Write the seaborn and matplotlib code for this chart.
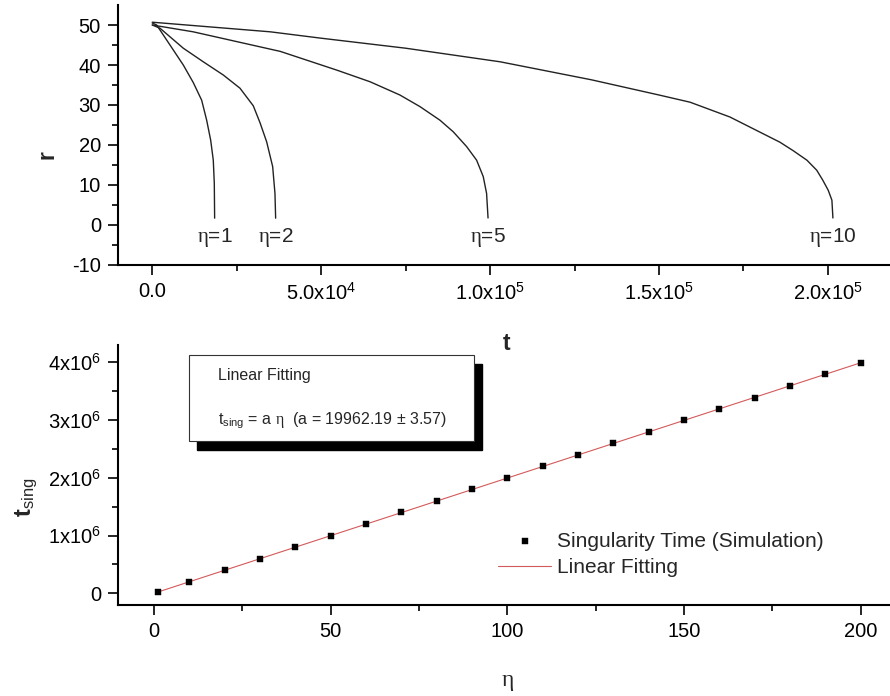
import matplotlib
matplotlib.use("Agg")
import numpy as np
import pandas as pd
import matplotlib.pyplot as plt
from matplotlib.patches import Rectangle
import seaborn as sns

# --- top panel: r(t), centre of the wiggle band ---
t_eta1 = [0, 1300, 5240, 9180, 12140, 14620, 16100, 17290, 18060, 18360, 18460]
r_eta1 = [50.5, 50, 45, 40, 35.6, 31.2, 26.2, 21.2, 16.2, 10.4, 1.7]

t_eta2 = [0, 2280, 9180, 15100, 21020, 25960, 29900, 31880, 33860, 35640,
          36320, 36520]
r_eta2 = [50, 49.2, 44.2, 40.8, 37.5, 34.2, 29.8, 25.6, 20.8, 14.6, 7.9, 1.7]

t_eta5 = [0, 12100, 37900, 54700, 64500, 73300, 79240, 85160, 89100, 93060,
          96020, 97980, 98970, 99400]
r_eta5 = [50, 48.3, 43.4, 38.7, 35.8, 32.5, 29.6, 26.2, 23.3, 19.6, 16.2, 12.1,
          7.9, 1.75]

t_eta10 = [0, 34900, 50000, 75000, 103000, 130000, 150000, 159200, 171000,
           185800, 189700, 193800, 196700, 198500, 200100, 201200, 201500]
r_eta10 = [50.7, 48.3, 46.7, 44.2, 40.8, 36.3, 32.5, 30.7, 27, 20.7, 18.6,
           16.2, 13.7, 11.2, 8.7, 6.2, 1.75]

curve_names = ["η=1", "η=2", "η=5", "η=10"]

# --- bottom panel: singularity time vs eta ---
eta = [1, 10, 20, 30, 40, 50, 60, 70, 80, 90, 100, 110, 120, 130, 140, 150,
       160, 170, 180, 190, 200]
tsing_sim = [0.02, 0.20, 0.40, 0.60, 0.80, 1.00, 1.20, 1.40, 1.60, 1.80, 2.00,
             2.20, 2.40, 2.60, 2.80, 3.00, 3.19, 3.39, 3.59, 3.79, 3.99]  # x1e6
fit_a = 19962.19

sns.set_style("ticks")
plt.rcParams["font.family"] = ["Liberation Sans", "DejaVu Sans"]
plt.rcParams.update({
    "mathtext.fontset": "custom",
    "mathtext.rm": "Liberation Sans",
    "mathtext.it": "Liberation Serif",
    "mathtext.bf": "Liberation Sans:bold",
    "axes.unicode_minus": False,
    "axes.linewidth": 1.5,
    "xtick.major.width": 1.2, "ytick.major.width": 1.2,
    "xtick.minor.width": 1.2, "ytick.minor.width": 1.2,
    "xtick.major.size": 7.5, "ytick.major.size": 7.5,
    "xtick.minor.size": 4, "ytick.minor.size": 4,
    "xtick.color": "black", "ytick.color": "black",
    "axes.edgecolor": "black",
})

fig = plt.figure(figsize=(8.9, 6.96), dpi=100)
ax1 = fig.add_axes([0.1329, 0.6193, 0.8671, 0.3735])
ax2 = fig.add_axes([0.1329, 0.1307, 0.8671, 0.3736])

# top panel
frames = []
for name, t, r in zip(curve_names,
                      [t_eta1, t_eta2, t_eta5, t_eta10],
                      [r_eta1, r_eta2, r_eta5, r_eta10]):
    frames.append(pd.DataFrame({"t": t, "r": r, "curve": name}))
curves = pd.concat(frames, ignore_index=True)

sns.lineplot(data=curves, x="t", y="r", units="curve", estimator=None,
             sort=False, color="#222222", lw=1.0, ax=ax1)
for name, t in zip(curve_names, [t_eta1, t_eta2, t_eta5, t_eta10]):
    lbl = name.replace("η", r"$\eta$")
    ax1.text(t[-1], -3.2, lbl, ha="center", va="center", fontsize=15)

ax1.set_xlim(-10065, 218400)
ax1.set_ylim(-10, 55)
ax1.set_xticks([0, 5e4, 1e5, 1.5e5, 2e5],
               ["0.0", r"5.0x10$^{4}$", r"1.0x10$^{5}$", r"1.5x10$^{5}$", r"2.0x10$^{5}$"])
ax1.set_xticks([2.5e4, 7.5e4, 1.25e5, 1.75e5], minor=True)
ax1.set_yticks([-10, 0, 10, 20, 30, 40, 50])
ax1.set_yticks([-5, 5, 15, 25, 35, 45], minor=True)
ax1.set_xlabel("")
ax1.set_ylabel("")

# bottom panel
tsing_abs = [v * 1e6 for v in tsing_sim]
fit_line = [fit_a * e for e in eta]
sns.lineplot(x=eta, y=fit_line, color="#d35a5a", lw=0.8, ax=ax2,
             label="Linear Fitting", zorder=2)
sns.scatterplot(x=eta, y=tsing_abs, marker="s", color="black", s=24,
                edgecolor="black", linewidth=0.3, ax=ax2,
                label="Singularity Time (Simulation)", zorder=3)

ax2.set_xlim(-10.1, 208.3)
ax2.set_ylim(-0.203e6, 4.3e6)
ax2.set_xticks([0, 50, 100, 150, 200])
ax2.set_xticks([25, 75, 125, 175], minor=True)
ax2.set_yticks([0, 1e6, 2e6, 3e6, 4e6],
               ["0", r"1x10$^{6}$", r"2x10$^{6}$", r"3x10$^{6}$", r"4x10$^{6}$"])
ax2.set_yticks([0.5e6, 1.5e6, 2.5e6, 3.5e6], minor=True)
ax2.set_xlabel("")
ax2.set_ylabel("")

handles, labels = ax2.get_legend_handles_labels()
order = [labels.index("Singularity Time (Simulation)"), labels.index("Linear Fitting")]
ax2.legend([handles[i] for i in order], [labels[i] for i in order],
           loc="center left", bbox_to_anchor=(498 / 890, 1 - 554.5 / 696),
           bbox_transform=fig.transFigure, frameon=False, fontsize=15,
           borderpad=0, borderaxespad=0, handlelength=2.55, handletextpad=0.3,
           labelspacing=0.35, markerscale=1.0)

for ax in (ax1, ax2):
    sns.despine(ax=ax)
    ax.tick_params(axis="both", which="major", labelsize=14.5, pad=5)

# fit box with drop shadow
bx, by, bw, bh = 189.3 / 890, 1 - 441 / 696, 285 / 890, 86 / 696
fig.patches.append(Rectangle((bx + 8 / 890, by - 9.5 / 696), bw, bh,
                             transform=fig.transFigure, facecolor="black",
                             edgecolor="black", zorder=5))
fig.patches.append(Rectangle((bx, by), bw, bh, transform=fig.transFigure,
                             facecolor="white", edgecolor="#333333", lw=0.8,
                             zorder=6))
fig.text(218.3 / 890, 1 - 375.7 / 696, "Linear Fitting", fontsize=11.5,
         va="center", ha="left", zorder=7)
fig.text(218.3 / 890, 1 - 425 / 696,
         r"t$_{\mathrm{sing}}$ = a $\eta$  (a = 19962.19 ± 3.57)",
         fontsize=11.5, va="baseline", ha="left", zorder=7)

# axis labels
fig.text(46.7 / 890, 1 - 155 / 696, "r", rotation=90, fontsize=16.5,
         fontweight="bold", ha="center", va="center")
fig.text(506.7 / 890, 1 - 343 / 696, "t", fontsize=16.5, fontweight="bold",
         ha="center", va="center")
fig.text(26 / 890, 1 - 497 / 696, r"$\mathbf{t}_{\mathrm{sing}}$", rotation=90,
         fontsize=17, ha="center", va="center")
fig.text(508 / 890, 1 - 682 / 696, r"$\eta$", fontsize=17, ha="center",
         va="center")

fig.savefig("out.png", dpi=100)
